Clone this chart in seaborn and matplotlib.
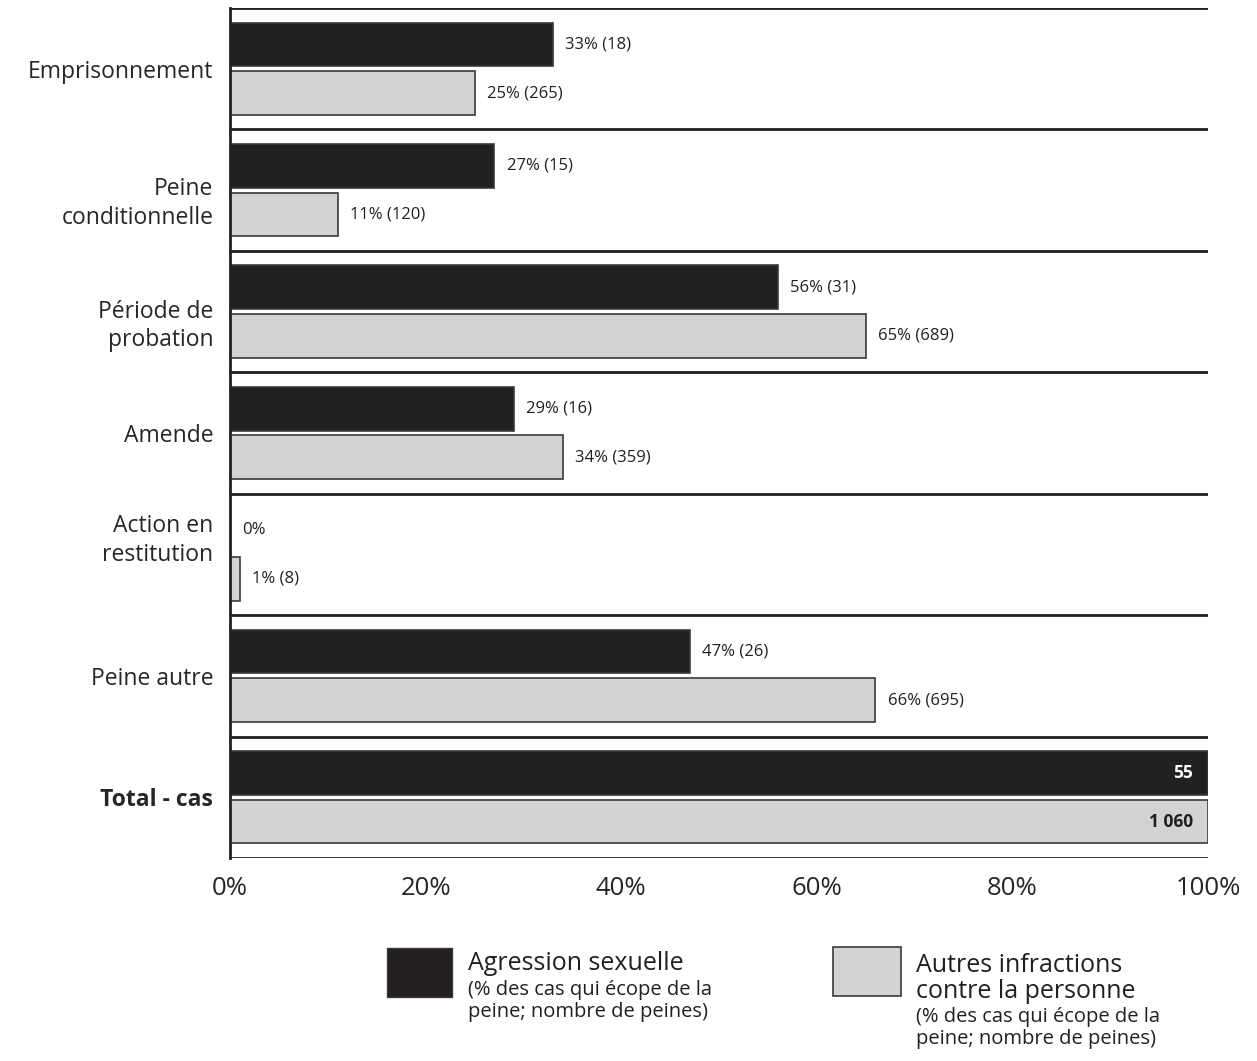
import matplotlib.pyplot as plt
from matplotlib.patches import Rectangle
from matplotlib.transforms import ScaledTranslation
import seaborn as sns
import pandas as pd

categories = ["Emprisonnement", "Peine\nconditionnelle", "Période de\nprobation", "Amende",
              "Action en\nrestitution", "Peine autre", "Total - cas"]
groups = ["Agression sexuelle", "Autres infractions contre la personne"]
pct_sexual = [33, 27, 56, 29, 0, 47, 100]
pct_other = [25, 11, 65, 34, 1, 66, 100]
n_sexual = [18, 15, 31, 16, 0, 26, 55]
n_other = [265, 120, 689, 359, 8, 695, 1060]
total_labels = ["55", "1 060"]

BLACK = "#231f20"
GREY = "#d1d3d4"

sns.set_style("white")
plt.rcParams["font.family"] = ["Open Sans", "DejaVu Sans"]

df = pd.DataFrame({
    "cat": categories * 2,
    "pct": pct_sexual + pct_other,
    "groupe": [groups[0]] * len(categories) + [groups[1]] * len(categories),
})

fig = plt.figure(figsize=(12.57, 10.61), dpi=100)
ax = fig.add_axes([230 / 1257, 1 - 858 / 1061, 978 / 1257, 850 / 1061])

sns.barplot(data=df, y="cat", x="pct", hue="groupe", orient="h", ax=ax,
            palette=[BLACK, GREY], width=0.8, gap=0.1, edgecolor="#3a3a3a",
            linewidth=1.2, legend=False, errorbar=None)

ax.set_xlim(0, 100)
ax.set_ylim(6.5, -0.5)
ax.set_xticks([0, 20, 40, 60, 80, 100])
ax.set_xticklabels([f"{v}%" for v in [0, 20, 40, 60, 80, 100]], fontsize=18.5)
ax.tick_params(axis="both", length=0)
ax.tick_params(axis="x", pad=13)
ax.tick_params(axis="y", pad=12, labelsize=16.5)

# the original nudges some two-line labels off centre
nudge = {"Peine\nconditionnelle": -8, "Période de\nprobation": -9, "Action en\nrestitution": 19}
for lab in ax.get_yticklabels():
    lab.set_linespacing(1.25)
    t = lab.get_text()
    if t.startswith("Total"):
        lab.set_fontweight("bold")
    if t in nudge:
        lab.set_transform(lab.get_transform() + ScaledTranslation(0, nudge[t] / 100, fig.dpi_scale_trans))
ax.set_xlabel("")
ax.set_ylabel("")

for s in ["top", "right", "bottom"]:
    ax.spines[s].set_visible(False)
ax.spines["left"].set_linewidth(2)
ax.spines["left"].set_color(BLACK)

for i in range(len(categories) + 1):
    ax.axhline(i - 0.5, color=BLACK, linewidth=2, zorder=3)

# value labels
for cont, pcts, ns in zip(ax.containers, [pct_sexual, pct_other], [n_sexual, n_other]):
    for j, bar in enumerate(cont.patches[:-1]):
        yc = bar.get_y() + bar.get_height() / 2
        txt = f"{pcts[j]}%" if ns[j] == 0 else f"{pcts[j]}% ({ns[j]})"
        ax.annotate(txt, (pcts[j], yc), xytext=(9, 0), textcoords="offset points",
                    va="center", ha="left", fontsize=12, color=BLACK)

for cont, lab, col in zip(ax.containers, total_labels, ["white", BLACK]):
    bar = cont.patches[-1]
    yc = bar.get_y() + bar.get_height() / 2
    ax.annotate(lab, (100, yc), xytext=(-11, 0), textcoords="offset points",
                va="center", ha="right", fontsize=12.5, fontweight="bold", color=col)

# legend
def fy(p):
    return 1 - p / 1061

fig.add_artist(Rectangle((387 / 1257, fy(997)), 65 / 1257, 49 / 1061,
                         transform=fig.transFigure, facecolor=BLACK, edgecolor="#3a3a3a", lw=1))
fig.add_artist(Rectangle((833 / 1257, fy(996)), 68 / 1257, 49 / 1061,
                         transform=fig.transFigure, facecolor=GREY, edgecolor="#3a3a3a", lw=1.2))

fig.text(468 / 1257, fy(964), "Agression sexuelle", fontsize=18, va="center", color=BLACK)
fig.text(468 / 1257, fy(990), "(% des cas qui écope de la", fontsize=14.5, va="center", color=BLACK)
fig.text(468 / 1257, fy(1012), "peine; nombre de peines)", fontsize=14.5, va="center", color=BLACK)

fig.text(916 / 1257, fy(966), "Autres infractions", fontsize=18, va="center", color=BLACK)
fig.text(916 / 1257, fy(992), "contre la personne", fontsize=18, va="center", color=BLACK)
fig.text(916 / 1257, fy(1017), "(% des cas qui écope de la", fontsize=14.5, va="center", color=BLACK)
fig.text(916 / 1257, fy(1039), "peine; nombre de peines)", fontsize=14.5, va="center", color=BLACK)

plt.savefig("out.png", dpi=100)
